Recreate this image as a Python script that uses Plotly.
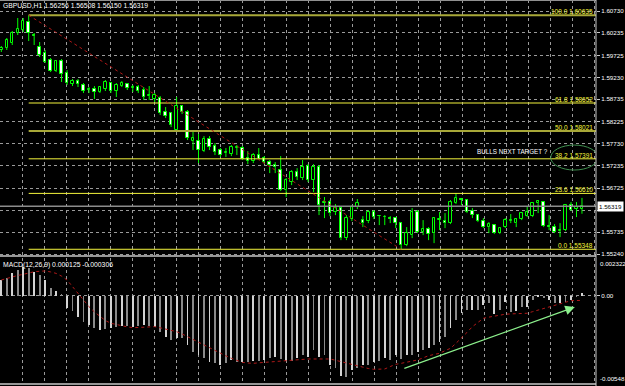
import plotly.graph_objects as go

# ---------------- data ----------------
bars = list(range(107))

open_ = [
1.59849, 1.59894, 1.60007, 1.60233, 1.60301, 1.60482, 1.60188, 1.59917, 1.59781, 1.59623,
1.59374, 1.59600, 1.59329, 1.59081, 1.59148, 1.59058, 1.58945, 1.58968, 1.58900, 1.58968,
1.59103, 1.58923, 1.59035, 1.59081, 1.58990, 1.59013, 1.58945, 1.58809, 1.58742, 1.58764,
1.58447, 1.58425, 1.58041, 1.58583, 1.58447, 1.57793, 1.57793, 1.57566, 1.57838, 1.57679,
1.57589, 1.57521, 1.57499, 1.57634, 1.57634, 1.57408, 1.57340, 1.57476, 1.57408, 1.57317,
1.57250, 1.57136, 1.56685, 1.56866, 1.57091, 1.56956, 1.57227, 1.56911, 1.57204, 1.56391,
1.56414, 1.56188, 1.56278, 1.55600, 1.56030, 1.56301, 1.56007, 1.55984, 1.56188, 1.56097,
1.56075, 1.56052, 1.56052, 1.55939, 1.55442, 1.55668, 1.56188, 1.55736, 1.55804, 1.55713,
1.56007, 1.55984, 1.55939, 1.56391, 1.56482, 1.56459, 1.56211, 1.56120, 1.55984, 1.55849,
1.55894, 1.55713, 1.55849, 1.55984, 1.55939, 1.56030, 1.56097, 1.56097, 1.56391, 1.56414,
1.55871, 1.55849, 1.55758, 1.55781, 1.56346, 1.56256, 1.56256]

high = [
1.59939, 1.60120, 1.60278, 1.60572, 1.60572, 1.60635, 1.60233, 1.60030, 1.59849, 1.59668,
1.59623, 1.59645, 1.59397, 1.59193, 1.59193, 1.59103, 1.59013, 1.59035, 1.59035, 1.59171,
1.59126, 1.59103, 1.59148, 1.59103, 1.59058, 1.59058, 1.59013, 1.59035, 1.58877, 1.58809,
1.58561, 1.58447, 1.58787, 1.58606, 1.58493, 1.57996, 1.57951, 1.57905, 1.57905, 1.57747,
1.57634, 1.57634, 1.57702, 1.57702, 1.57679, 1.57566, 1.57521, 1.57634, 1.57453, 1.57363,
1.57317, 1.57453, 1.56956, 1.57136, 1.57181, 1.57363, 1.57272, 1.57272, 1.57250, 1.56527,
1.56459, 1.56369, 1.56323, 1.56120, 1.56346, 1.56482, 1.56097, 1.56233, 1.56233, 1.56120,
1.56120, 1.56097, 1.56052, 1.55962, 1.55849, 1.56278, 1.56233, 1.56007, 1.55849, 1.56075,
1.56188, 1.56165, 1.56459, 1.56617, 1.56504, 1.56482, 1.56278, 1.56143, 1.56052, 1.55962,
1.55917, 1.55849, 1.56052, 1.56143, 1.56052, 1.56188, 1.56323, 1.56414, 1.56459, 1.56436,
1.56120, 1.55917, 1.55939, 1.56369, 1.56414, 1.56414, 1.56508]

low = [
1.59804, 1.59849, 1.59962, 1.60188, 1.60256, 1.60052, 1.59962, 1.59691, 1.59555, 1.59351,
1.59351, 1.59126, 1.59058, 1.59035, 1.59013, 1.58877, 1.58877, 1.58742, 1.58877, 1.58923,
1.58877, 1.58787, 1.59013, 1.58945, 1.58900, 1.58877, 1.58719, 1.58719, 1.58674, 1.58380,
1.58312, 1.58109, 1.57996, 1.58403, 1.57815, 1.57589, 1.57295, 1.57544, 1.57589, 1.57476,
1.57431, 1.57431, 1.57453, 1.57476, 1.57363, 1.57272, 1.57295, 1.57363, 1.57272, 1.57069,
1.57069, 1.56663, 1.56527, 1.56798, 1.56911, 1.56911, 1.56866, 1.56640, 1.56120, 1.56052,
1.56097, 1.56120, 1.55555, 1.55555, 1.55984, 1.56256, 1.55849, 1.55939, 1.56030, 1.55894,
1.55894, 1.55939, 1.55826, 1.55348, 1.55419, 1.55600, 1.55713, 1.55668, 1.55555, 1.55487,
1.55781, 1.55826, 1.55917, 1.56369, 1.56346, 1.56165, 1.56052, 1.55962, 1.55826, 1.55713,
1.55691, 1.55691, 1.55826, 1.55939, 1.55849, 1.56007, 1.56075, 1.56075, 1.56165, 1.55849,
1.55781, 1.55713, 1.55623, 1.55758, 1.56211, 1.56075, 1.56150]

close = [
1.59894, 1.60075, 1.60233, 1.60323, 1.60504, 1.60233, 1.60165, 1.59736, 1.59577, 1.59374,
1.59600, 1.59306, 1.59103, 1.59148, 1.59081, 1.58923, 1.58968, 1.58900, 1.59013, 1.59126,
1.58923, 1.59058, 1.59103, 1.58990, 1.59013, 1.58923, 1.58787, 1.58832, 1.58832, 1.58425,
1.58357, 1.58154, 1.58583, 1.58447, 1.57860, 1.57860, 1.57589, 1.57838, 1.57657, 1.57544,
1.57476, 1.57544, 1.57657, 1.57657, 1.57385, 1.57340, 1.57476, 1.57385, 1.57317, 1.57250,
1.57204, 1.56685, 1.56911, 1.57091, 1.56979, 1.57204, 1.56911, 1.57204, 1.56346, 1.56414,
1.56165, 1.56278, 1.55600, 1.56052, 1.56301, 1.56391, 1.55939, 1.56188, 1.56075, 1.56097,
1.56075, 1.56030, 1.55939, 1.55442, 1.55713, 1.56188, 1.55736, 1.55804, 1.55691, 1.56052,
1.56030, 1.55939, 1.56414, 1.56504, 1.56459, 1.56188, 1.56120, 1.55984, 1.55849, 1.55917,
1.55713, 1.55826, 1.56007, 1.56007, 1.56030, 1.56165, 1.56188, 1.56391, 1.56436, 1.55871,
1.55849, 1.55736, 1.55781, 1.56346, 1.56233, 1.56301, 1.56319]

macd_main = [
0.00096, 0.00110, 0.00137, 0.00158, 0.00178, 0.00168, 0.00147, 0.00127, 0.00096, 0.00048,
0.00028, 0.00007, -0.00079, -0.00096, -0.00131, -0.00162, -0.00183, -0.00203, -0.00214, -0.00207,
-0.00203, -0.00193, -0.00187, -0.00187, -0.00193, -0.00187, -0.00183, -0.00189, -0.00193, -0.00228,
-0.00255, -0.00275, -0.00265, -0.00261, -0.00306, -0.00348, -0.00368, -0.00385, -0.00410, -0.00420,
-0.00430, -0.00420, -0.00399, -0.00410, -0.00414, -0.00410, -0.00405, -0.00405, -0.00399, -0.00385,
-0.00379, -0.00393, -0.00405, -0.00405, -0.00389, -0.00368, -0.00379, -0.00337, -0.00379, -0.00368,
-0.00430, -0.00447, -0.00496, -0.00502, -0.00461, -0.00451, -0.00430, -0.00430, -0.00410, -0.00405,
-0.00389, -0.00399, -0.00368, -0.00393, -0.00368, -0.00368, -0.00348, -0.00337, -0.00327, -0.00306,
-0.00286, -0.00255, -0.00203, -0.00152, -0.00110, -0.00090, -0.00090, -0.00090, -0.00059, -0.00048,
-0.00116, -0.00090, -0.00038, -0.00100, -0.00096, -0.00069, -0.00069, -0.00028, -0.00007, -0.00014,
-0.00028, -0.00048, -0.00048, -0.00038, -0.00028, -0.00007, 0.000125]

macd_signal = [
0.00096, 0.00106, 0.00116, 0.00124, 0.00131, 0.00140, 0.00147, 0.00150, 0.00152, 0.00146,
0.00137, 0.00120, 0.00096, 0.00055, 0.00014, -0.00030, -0.00069, -0.00102, -0.00131, -0.00155,
-0.00172, -0.00181, -0.00187, -0.00194, -0.00199, -0.00198, -0.00197, -0.00195, -0.00193, -0.00200,
-0.00207, -0.00215, -0.00224, -0.00238, -0.00255, -0.00273, -0.00292, -0.00310, -0.00327, -0.00343,
-0.00358, -0.00374, -0.00389, -0.00402, -0.00414, -0.00418, -0.00420, -0.00417, -0.00414, -0.00412,
-0.00410, -0.00408, -0.00405, -0.00401, -0.00397, -0.00395, -0.00393, -0.00393, -0.00393, -0.00393,
-0.00393, -0.00401, -0.00410, -0.00418, -0.00426, -0.00437, -0.00447, -0.00452, -0.00457, -0.00456,
-0.00455, -0.00440, -0.00426, -0.00420, -0.00414, -0.00406, -0.00399, -0.00386, -0.00373, -0.00365,
-0.00358, -0.00342, -0.00327, -0.00296, -0.00265, -0.00229, -0.00193, -0.00167, -0.00141, -0.00134,
-0.00127, -0.00121, -0.00116, -0.00114, -0.00113, -0.00111, -0.00110, -0.00100, -0.00090, -0.00079,
-0.00069, -0.00061, -0.00053, -0.00042, -0.00032, -0.00031, -0.000306]

price_ticks = [1.60730, 1.60235, 1.59725, 1.59230, 1.58735, 1.58225,
               1.57730, 1.57235, 1.56725, 1.56230, 1.55735, 1.55240]
price_tick_text = ["1.60730", "1.60235", "1.59725", "1.59230", "1.58735", "1.58225",
                   "1.57730", "1.57235", "1.56725", "", "1.55735", "1.55240"]

fib_levels = [100.0, 61.8, 50.0, 38.2, 23.6, 0.0]
fib_prices = [1.60635, 1.58652, 1.58021, 1.57391, 1.56610, 1.55348]
fib_high_bar, fib_low_bar = 5, 73

macd_max, macd_min = 0.002322, -0.00548
last_price = 1.56319
title_text = "GBPUSD,H1 1.56256 1.56508 1.56150 1.56319"
macd_text = "MACD(12,26,9) 0.000125 -0.000306"
note_text = "BULLS NEXT TARGET ?"

# ---------------- styling / layout constants ----------------
W, H = 625, 386
X_RANGE = [-0.237, 108.56]
PRICE_RANGE = [1.55196, 1.609785]
MAIN_DOMAIN = [130 / 386, 1.0]
MACD_DOMAIN = [2 / 386, 128 / 386]
LIME = "#00ff00"
GRID = "#9a9a9a"
FONT = "Liberation Sans, Arial, sans-serif"

fig = go.Figure()

# candle bodies
base = [min(o, c) for o, c in zip(open_, close)]
height = [max(abs(c - o), 0.000012) for o, c in zip(open_, close)]
body_col = ["black" if c >= o else "white" for o, c in zip(open_, close)]
fig.add_trace(go.Bar(x=bars, y=height, base=base, width=0.45,
                     marker=dict(color=body_col, line=dict(color=LIME, width=1)),
                     xaxis="x", yaxis="y", hoverinfo="skip"))

# wicks (outside the body)
wx, wy = [], []
for i, o, h, l, c in zip(bars, open_, high, low, close):
    top, bot = max(o, c), min(o, c)
    if h > top:
        wx += [i, i, None]; wy += [h, top, None]
    if l < bot:
        wx += [i, i, None]; wy += [bot, l, None]
fig.add_trace(go.Scatter(x=wx, y=wy, mode="lines", line=dict(color=LIME, width=1),
                         xaxis="x", yaxis="y", hoverinfo="skip"))

# MACD histogram
hist_col = ["#d4d4d4" if i % 2 == 0 else "#8a8a8a" for i in bars]
fig.add_trace(go.Bar(x=bars, y=macd_main, width=0.16, marker=dict(color=hist_col, line=dict(width=0)),
                     xaxis="x2", yaxis="y2", hoverinfo="skip"))
# signal line
fig.add_trace(go.Scatter(x=bars, y=macd_signal, mode="lines",
                         line=dict(color="#b01818", width=1, dash="dot"),
                         xaxis="x2", yaxis="y2", hoverinfo="skip"))

shapes = []
# fibonacci levels
for lvl, p in zip(fib_levels, fib_prices):
    olive = lvl in (100.0, 50.0)
    shapes.append(dict(type="line", xref="x", yref="y", x0=fib_high_bar, x1=X_RANGE[1],
                       y0=p, y1=p, line=dict(color="#a8a838" if olive else "#f4f43c",
                                             width=2 if olive else 1)))
# fib trend line
shapes.append(dict(type="line", xref="x", yref="y", x0=fib_high_bar, y0=fib_prices[0],
                   x1=fib_low_bar, y1=fib_prices[-1],
                   line=dict(color="#b01818", width=1, dash="dot")))
# bid line
shapes.append(dict(type="line", xref="x", yref="y", x0=X_RANGE[0], x1=X_RANGE[1],
                   y0=last_price, y1=last_price, line=dict(color="#8c8c8c", width=1.5)))
# ellipse around 38.2 label
shapes.append(dict(type="circle", xref="x", yref="y", x0=100.3, x1=108.9,
                   y0=1.57138, y1=1.57702, line=dict(color="#3f8f4f", width=1)))
# frame lines
frame = "#c8c8c8"
shapes += [
    dict(type="line", xref="paper", yref="paper", x0=0, x1=1, y0=1 - 0.5 / H, y1=1 - 0.5 / H,
         line=dict(color="#909090", width=1)),
    dict(type="line", xref="paper", yref="paper", x0=0, x1=1, y0=MAIN_DOMAIN[0], y1=MAIN_DOMAIN[0],
         line=dict(color=frame, width=1.5)),
    dict(type="line", xref="paper", yref="paper", x0=0, x1=1, y0=MACD_DOMAIN[0], y1=MACD_DOMAIN[0],
         line=dict(color=frame, width=1.5)),
    dict(type="line", xref="paper", yref="paper", x0=1, x1=1, y0=0, y1=1,
         line=dict(color=frame, width=1)),
]

annotations = []
for lvl, p in zip(fib_levels, fib_prices):
    annotations.append(dict(xref="paper", yref="y", x=1, y=p, xanchor="right", yanchor="bottom",
                            xshift=-1, yshift=-2, showarrow=False,
                            text=f"{lvl:.1f} {p:.5f}",
                            font=dict(family=FONT, size=6.5, color="#f4f43c")))
annotations += [
    dict(xref="paper", yref="paper", x=0, y=1, xanchor="left", yanchor="top", xshift=1, yshift=0,
         showarrow=False, text=title_text, font=dict(family=FONT, size=6.8, color="white")),
    dict(xref="paper", yref="paper", x=0, y=MACD_DOMAIN[1], xanchor="left", yanchor="top",
         xshift=1, yshift=-1, showarrow=False, text=macd_text,
         font=dict(family=FONT, size=6.8, color="white")),
    dict(xref="x", yref="y", x=93.4, y=1.57566, xanchor="center", yanchor="middle",
         showarrow=False, text=note_text, font=dict(family=FONT, size=6.3, color="white")),
    dict(xref="paper", yref="y", x=1, y=last_price, xanchor="left", yanchor="middle", xshift=1,
         showarrow=False, text=f"{last_price:.5f}", bgcolor="white", borderpad=1,
         font=dict(family=FONT, size=6.2, color="black")),
    dict(xref="paper", yref="y2", x=1, y=macd_max, xanchor="left", yanchor="top", xshift=2,
         showarrow=False, text=f"{macd_max:.6f}", font=dict(family=FONT, size=6.2, color="white")),
    dict(xref="paper", yref="y2", x=1, y=macd_min, xanchor="left", yanchor="bottom", xshift=2,
         showarrow=False, text=f"{macd_min:.5f}", font=dict(family=FONT, size=6.2, color="white")),
    # green arrow
    dict(xref="x2", yref="y2", axref="x2", ayref="y2", x=104.7, y=-0.00071, ax=73.3, ay=-0.00455,
         showarrow=True, arrowhead=2, arrowsize=1.6, arrowwidth=1.2, arrowcolor="#8cf08c", text=""),
]

xcommon = dict(range=X_RANGE, showticklabels=False, ticks="", showgrid=True, gridcolor=GRID,
               griddash="dot", gridwidth=1, tick0=3.779, dtick=4.016, zeroline=False, showline=False)

fig.update_layout(
    width=W, height=H, margin=dict(l=0, r=29, t=0, b=0),
    paper_bgcolor="black", plot_bgcolor="black", showlegend=False,
    barmode="overlay", bargap=0,
    xaxis=dict(domain=[0, 1], anchor="y", **xcommon),
    xaxis2=dict(domain=[0, 1], anchor="y2", matches="x", **xcommon),
    yaxis=dict(domain=MAIN_DOMAIN, range=PRICE_RANGE, side="right", anchor="x",
               tickvals=price_ticks, ticktext=price_tick_text, showgrid=True, gridcolor=GRID,
               griddash="dot", zeroline=False, showline=False, ticks="outside", ticklen=3,
               tickcolor="#c8c8c8", tickfont=dict(family=FONT, size=6.2, color="white")),
    yaxis2=dict(domain=MACD_DOMAIN, range=[macd_min, macd_max], side="right", anchor="x2",
                tickvals=[0], ticktext=["0.00"], showgrid=True, gridcolor=GRID, griddash="dot",
                zeroline=False, showline=False, ticks="outside", ticklen=3, tickcolor="#c8c8c8",
                tickfont=dict(family=FONT, size=6.2, color="white")),
    shapes=shapes, annotations=annotations,
)

fig.write_html("out.html")
